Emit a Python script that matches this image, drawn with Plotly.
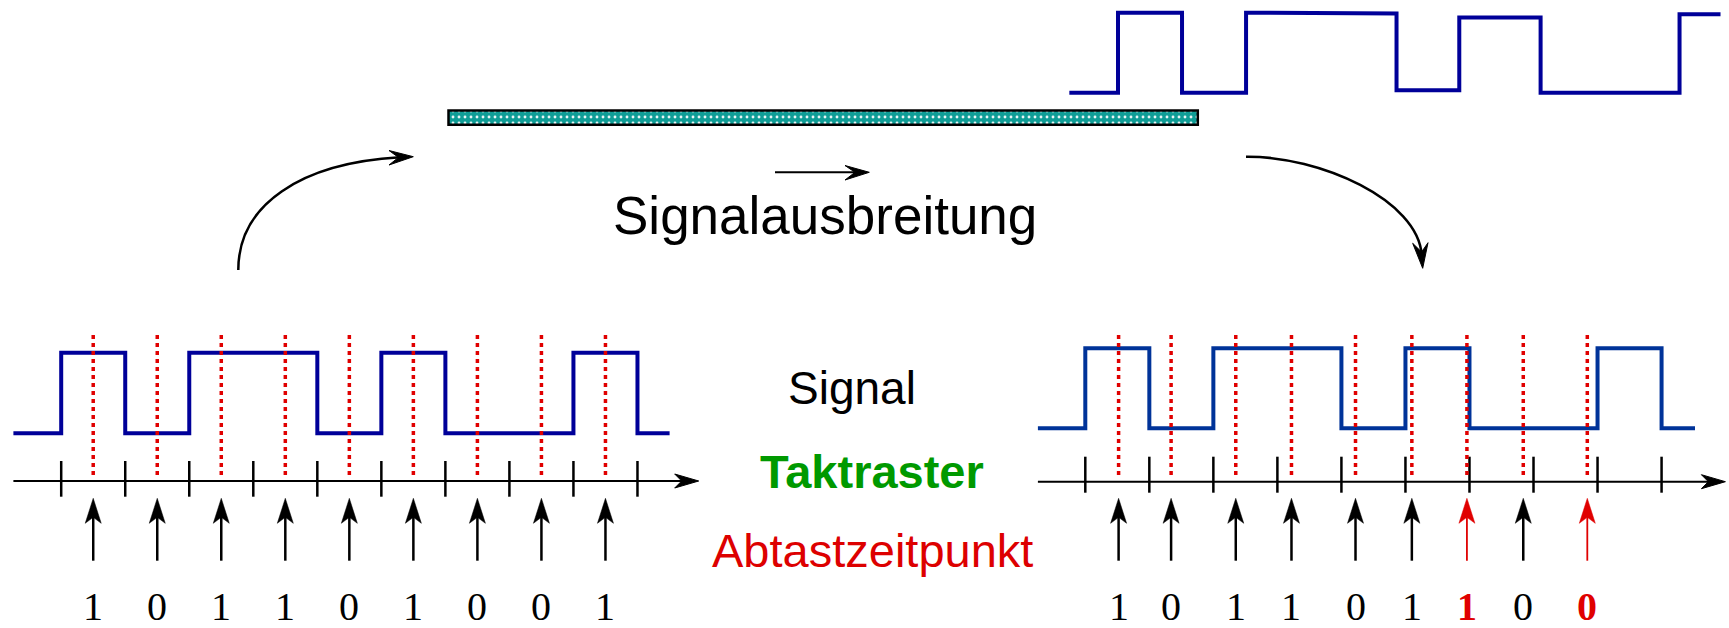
import plotly.graph_objects as go

W, H = 1729, 628

# ---------------- data ----------------
sent_bits   = [1, 0, 1, 1, 0, 1, 0, 0, 1]
clock_ticks = [0, 1, 2, 3, 4, 5, 6, 7, 8, 9]
tx_sample_t = [0.5, 1.5, 2.5, 3.5, 4.5, 5.5, 6.5, 7.5, 8.5]
tx_decoded  = ["1", "0", "1", "1", "0", "1", "0", "0", "1"]
tx_error    = [False] * 9

rx_bits     = [1, 0, 1, 1, 0, 1, 0, 0, 1]
rx_sample_t = [0.52, 1.34, 2.35, 3.22, 4.22, 5.10, 5.96, 6.84, 7.84]
rx_decoded  = ["1", "0", "1", "1", "0", "1", "1", "0", "0"]
rx_error    = [False, False, False, False, False, False, True, False, True]

# distorted waveform on the line (time in bit periods, level 0..1)
line_t     = [-0.76, 0.0, 0.0, 1.0, 1.0, 2.0, 2.0, 4.35, 4.35, 5.33, 5.33, 6.60, 6.60, 8.77, 8.77, 9.41]
line_level = [0.0, 0.0, 1.0, 1.0, 0.0, 0.0, 1.0, 0.99, 0.03, 0.03, 0.94, 0.94, 0.0, 0.0, 0.98, 0.98]

title_text = "Signalausbreitung"
row_labels = ["Signal", "Taktraster", "Abtastzeitpunkt"]

# ---------------- layout geometry (pixels) ----------------
BIT_PX = 64.03
PANELS = {
    "tx": dict(xa="x2", ya="y2", ox=61.2, oy=433.3, uy=80.6, start=13.4, end=669.6,
               axis_end=698.7, axis_y=481.0, tick=(461.0, 496.7), dots=(335.0, 476.7),
               arrow=(498.3, 560.7), digit_y=606.0, color="#000099"),
    "rx": dict(xa="x3", ya="y3", ox=1085.3, oy=428.3, uy=80.0, start=1037.9, end=1695.0,
               axis_end=1725.4, axis_y=481.7, tick=(456.7, 492.7), dots=(335.0, 476.7),
               arrow=(498.3, 560.7), digit_y=606.0, color="#003399"),
}
TOP = dict(xa="x4", ya="y4", ox=1118.0, oy=92.7, uy=80.0, color="#000099")

RED = "#e00000"
fig = go.Figure()
annotations = []


def axis_ranges(ox, ux, oy, uy):
    return [(0 - ox) / ux, (W - ox) / ux], [(oy - H) / uy, oy / uy]


def add_panel(p, bits, sample_t, decoded, errors):
    ux, uy = BIT_PX, p["uy"]
    T = lambda px: (px - p["ox"]) / ux
    L = lambda py: (p["oy"] - py) / uy
    xa, ya = p["xa"], p["ya"]
    # clock axis
    fig.add_trace(go.Scatter(x=[T(p["start"]), T(p["axis_end"] - 12)], y=[L(p["axis_y"])] * 2,
                             xaxis=xa, yaxis=ya, mode="lines",
                             line=dict(color="black", width=2), hoverinfo="skip"))
    ae, ay = p["axis_end"], p["axis_y"]
    fig.add_trace(go.Scatter(x=[T(ae), T(ae - 24), T(ae - 17), T(ae - 24), T(ae)],
                             y=[L(ay), L(ay - 7), L(ay), L(ay + 7), L(ay)],
                             xaxis=xa, yaxis=ya, mode="lines", fill="toself", fillcolor="black",
                             line=dict(color="black", width=1), hoverinfo="skip"))
    # clock ticks
    tx, ty = [], []
    for t in clock_ticks:
        tx += [t, t, None]
        ty += [L(p["tick"][0]), L(p["tick"][1]), None]
    fig.add_trace(go.Scatter(x=tx, y=ty, xaxis=xa, yaxis=ya, mode="lines",
                             line=dict(color="black", width=2.5), hoverinfo="skip"))
    # signal
    xs = [T(p["start"])] + clock_ticks + [T(p["end"])]
    ys = [0] + bits + [0, 0]
    fig.add_trace(go.Scatter(x=xs, y=ys, xaxis=xa, yaxis=ya, mode="lines", line_shape="hv",
                             line=dict(color=p["color"], width=4), hoverinfo="skip"))
    # sampling instants (dotted)
    dx, dy = [], []
    for t in sample_t:
        dx += [t, t, None]
        dy += [L(p["dots"][0]), L(p["dots"][1]), None]
    fig.add_trace(go.Scatter(x=dx, y=dy, xaxis=xa, yaxis=ya, mode="lines",
                             line=dict(color=RED, width=3.5, dash="4px,4px"), hoverinfo="skip"))
    # arrows and decoded bits
    tip, tail = p["arrow"]
    for t, d, e in zip(sample_t, decoded, errors):
        c = RED if e else "black"
        fig.add_trace(go.Scatter(x=[t, t], y=[L(tail), L(tip + 18)], xaxis=xa, yaxis=ya,
                                 mode="lines", line=dict(color=c, width=1.8 if e else 2.5),
                                 hoverinfo="skip"))
        fig.add_trace(go.Scatter(x=[t, t - 8 / ux, t, t + 8 / ux, t],
                                 y=[L(tip), L(tip + 25), L(tip + 19), L(tip + 25), L(tip)],
                                 xaxis=xa, yaxis=ya, mode="lines", fill="toself", fillcolor=c,
                                 line=dict(color=c, width=0.5), hoverinfo="skip"))
        annotations.append(dict(x=t, y=L(p["digit_y"]), xref=xa, yref=ya,
                                text=f"<b>{d}</b>" if e else d, showarrow=False,
                                xanchor="center", yanchor="middle",
                                font=dict(family="Liberation Serif, Times New Roman, serif",
                                          size=40, color=c)))


# cable (teal bar with dot pattern)
fig.add_trace(go.Bar(x=[1197.8 - 448.5], base=[448.5], y=[117.6], width=[14.3], orientation="h",
                     marker=dict(color="#0f9d96", line=dict(color="black", width=2.5),
                                 pattern=dict(shape=".", fgcolor="white", bgcolor="#0f9d96",
                                              size=6, solidity=0.18, fgopacity=0.9)),
                     hoverinfo="skip"))

add_panel(PANELS["tx"], sent_bits, tx_sample_t, tx_decoded, tx_error)
add_panel(PANELS["rx"], rx_bits, rx_sample_t, rx_decoded, rx_error)

# waveform on the line
fig.add_trace(go.Scatter(x=line_t, y=line_level, xaxis=TOP["xa"], yaxis=TOP["ya"], mode="lines",
                         line=dict(color=TOP["color"], width=4), hoverinfo="skip"))

# curved arrows and propagation arrow
shapes = [
    dict(type="path", path="M 238.3,270 C 238.3,205 300,163 400,157.3",
         line=dict(color="black", width=2.5)),
    dict(type="path", path="M 413.3,156.7 L 389,150.5 L 398.5,157.4 L 389,165 Z",
         fillcolor="black", line=dict(color="black", width=1)),
    dict(type="path", path="M 1246,156.7 C 1320,156 1418,200 1421.7,255",
         line=dict(color="black", width=2.5)),
    dict(type="path", path="M 1422.7,268.3 L 1412.7,243.3 L 1421.6,252 L 1428,242.7 Z",
         fillcolor="black", line=dict(color="black", width=1)),
    dict(type="line", x0=775, y0=172.3, x1=858, y1=172.3, line=dict(color="black", width=2)),
    dict(type="path", path="M 869.3,172.3 L 845,165.5 L 855,172.3 L 845,180 Z",
         fillcolor="black", line=dict(color="black", width=1)),
]
for s in shapes:
    s.update(xref="x", yref="y", layer="above")

SANS = "Liberation Sans, Arial, sans-serif"
annotations += [
    dict(x=825, y=215, text=title_text, font=dict(family=SANS, size=53, color="black")),
    dict(x=852, y=388.3, text=row_labels[0], font=dict(family=SANS, size=46, color="black")),
    dict(x=871.5, y=471.3, text=f"<b>{row_labels[1]}</b>", font=dict(family=SANS, size=47, color="#009900")),
    dict(x=872.5, y=550.8, text=row_labels[2], font=dict(family=SANS, size=47, color="#dd0000")),
]
for a in annotations[-4:]:
    a.update(xref="x", yref="y", showarrow=False, xanchor="center", yanchor="middle")

ax_common = dict(visible=False, showgrid=False, zeroline=False, fixedrange=True)
layout = dict(
    width=W, height=H, margin=dict(l=0, r=0, t=0, b=0),
    paper_bgcolor="white", plot_bgcolor="white", showlegend=False, hovermode=False,
    xaxis=dict(range=[0, W], **ax_common), yaxis=dict(range=[H, 0], **ax_common),
    shapes=shapes, annotations=annotations,
)
for p in (PANELS["tx"], PANELS["rx"], TOP):
    xr, yr = axis_ranges(p["ox"], BIT_PX, p["oy"], p["uy"])
    n = p["xa"][1:]
    layout[f"xaxis{n}"] = dict(range=xr, overlaying="x", anchor=f"y{n}", **ax_common)
    layout[f"yaxis{n}"] = dict(range=yr, overlaying="y", anchor=f"x{n}", **ax_common)

fig.update_layout(**layout)
fig.write_html("out.html", config={"displayModeBar": False},
               post_script="document.body.style.margin='0';document.body.style.overflow='hidden';")
